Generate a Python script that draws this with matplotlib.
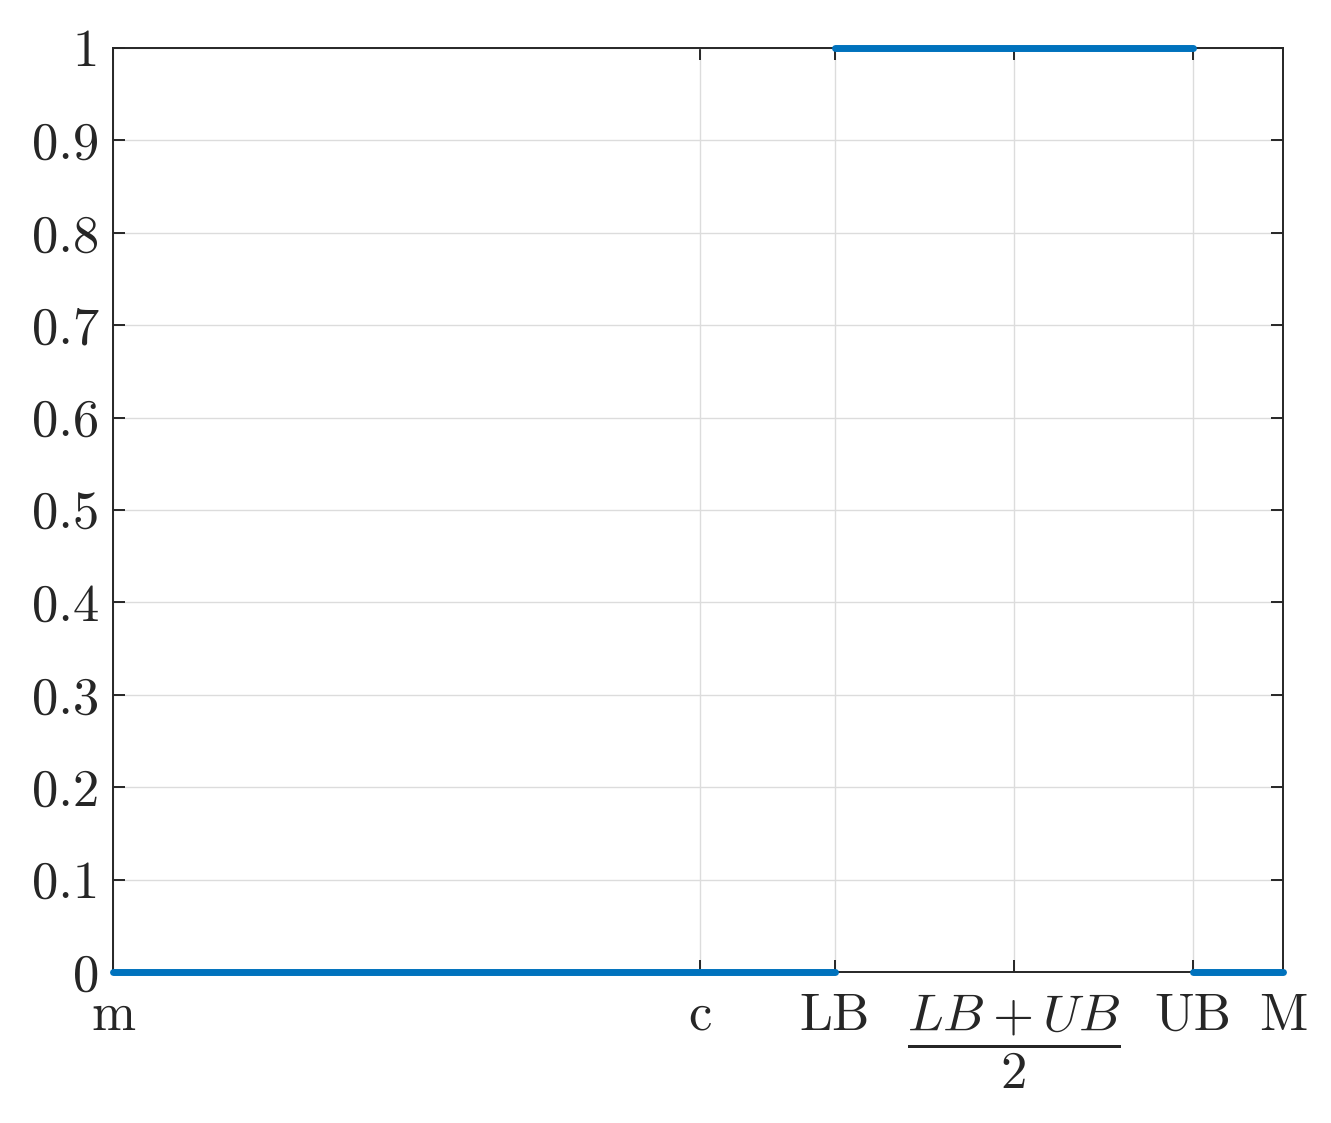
import numpy as np
import matplotlib.pyplot as plt

plt.rcParams['font.family'] = 'serif'
plt.rcParams['font.serif'] = ['cmr10']
plt.rcParams['mathtext.fontset'] = 'cm'
plt.rcParams['axes.formatter.use_mathtext'] = True

# Hodnoty na ose x (normované, m = 0, M = 1)
m_val = 0.0
c_val = 0.502
lb_val = 0.617
ub_val = 0.923
M_val = 1.0
mid_val = (lb_val + ub_val) / 2

x_ticks = [m_val, c_val, lb_val, mid_val, ub_val, M_val]
x_labels = ["m", "c", "LB", r"$\dfrac{LB+UB}{2}$", "UB", "M"]
y_ticks = [0, 0.1, 0.2, 0.3, 0.4, 0.5, 0.6, 0.7, 0.8, 0.9, 1]
y_labels = ["0", "0.1", "0.2", "0.3", "0.4", "0.5", "0.6", "0.7", "0.8", "0.9", "1"]

# Úseky funkce (indikátor intervalu [LB, UB])
segments = [
    ([m_val, lb_val], [0, 0]),
    ([lb_val, ub_val], [1, 1]),
    ([ub_val, M_val], [0, 0]),
]

fig = plt.figure(figsize=(13.31, 11.23), dpi=100)
ax = fig.add_axes([113 / 1331, 1 - 972 / 1123, 1170 / 1331, 924 / 1123])

for xs, ys in segments:
    ax.plot(xs, ys, color="#0072BD", linewidth=5.0, solid_capstyle="round",
            clip_on=False, zorder=5)

ax.set_xlim(m_val, M_val)
ax.set_ylim(0, 1)
ax.set_xticks(x_ticks)
ax.set_xticklabels(x_labels)
ax.set_yticks(y_ticks)
ax.set_yticklabels(y_labels)

ax.grid(True, color="#dcdcdc", linewidth=1.0)
ax.set_axisbelow(True)
for s in ax.spines.values():
    s.set_color("#262626")
    s.set_linewidth(1.4)
ax.tick_params(direction="in", length=8.5, width=1.4, color="#262626",
               top=True, right=True, labelsize=38, labelcolor="#262626")
ax.tick_params(axis="x", pad=15)
ax.tick_params(axis="y", pad=10)

fig.savefig("out.png", dpi=100)
